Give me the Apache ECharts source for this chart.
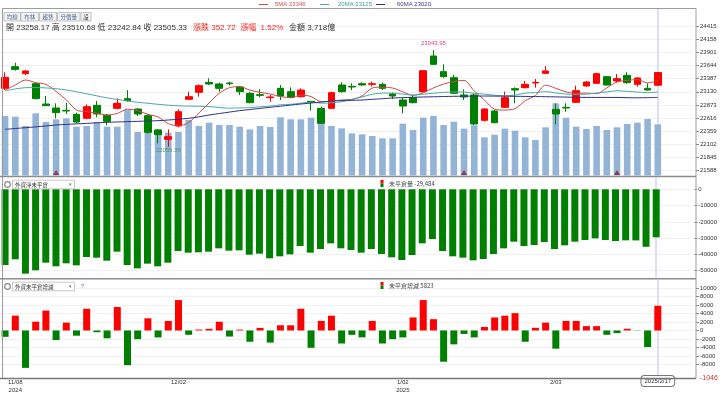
<!DOCTYPE html>
<html><head><meta charset="utf-8">
<script src="https://cdn.jsdelivr.net/npm/echarts@6/dist/echarts.min.js"></script>
<style>html,body{margin:0;padding:0;background:#fff}#c{width:720px;height:395px}</style>
</head><body><div id="c"></div>
<script>
const dates = ['2024/11/07','2024/11/08','2024/11/11','2024/11/12','2024/11/13','2024/11/14','2024/11/15','2024/11/18','2024/11/19','2024/11/20','2024/11/21','2024/11/22','2024/11/25','2024/11/26','2024/11/27','2024/11/28','2024/11/29','2024/12/02','2024/12/03','2024/12/04','2024/12/05','2024/12/06','2024/12/09','2024/12/10','2024/12/11','2024/12/12','2024/12/13','2024/12/16','2024/12/17','2024/12/18','2024/12/19','2024/12/20','2024/12/23','2024/12/24','2024/12/25','2024/12/26','2024/12/27','2024/12/30','2024/12/31','2025/1/2','2025/1/3','2025/1/6','2025/1/7','2025/1/8','2025/1/9','2025/1/10','2025/1/13','2025/1/14','2025/1/15','2025/1/16','2025/1/17','2025/1/20','2025/1/21','2025/1/22','2025/2/3','2025/2/4','2025/2/5','2025/2/6','2025/2/7','2025/2/10','2025/2/11','2025/2/12','2025/2/13','2025/2/14','2025/2/17'];
const padCats = ['pad1','pad2','pad3'];
// [open, close, low, high]
const ohlc = [
[23197,23412,23164,23510],[23620,23568,23542,23699],[23484,23536,23458,23555],[23288,22995,22982,23308],
[22891,22858,22852,23047],[22813,22722,22611,22904],[22767,22754,22696,22917],[22689,22539,22513,22722],
[22611,22839,22591,22884],[22865,22696,22630,22949],[22670,22552,22474,22696],[22806,22904,22787,23002],
[22995,22956,22937,23164],[22793,22696,22656,22806],[22663,22337,22318,22696],[22383,22292,22122,22396],
[22201,22253,22055.36,22396],[22461,22741,22435,22787],[22982,23034,22969,23132],[23119,23249,23034,23275],
[23314,23282,23262,23392],[23282,23197,23132,23308],[23301,23288,23249,23327],[23223,23132,23067,23243],
[23099,22917,22904,23132],[23073,23060,23021,23178],[23015,23028,22937,23067],[23197,23047,22969,23262],
[23132,23021,23002,23217],[23034,23164,23015,23197],[22943,22924,22761,22949],[22806,22513,22500,22839],
[22806,23112,22793,23132],[23262,23132,23112,23314],[23236,23223,23164,23295],[23288,23262,23249,23314],
[23275,23288,23230,23327],[23275,23197,23164,23308],[23086,23047,22989,23112],[22969,22852,22709,23021],
[23015,22917,22904,23067],[23132,23542,23112,23555],[23829,23666,23653,23943.95],[23523,23425,23405,23666],
[23405,23099,23086,23458],[23067,23028,22969,23178],[23067,22500,22481,23099],[22572,22793,22546,22806],
[22754,22526,22513,22774],[22826,23015,22813,23132],[23191,23164,22904,23217],[23210,23275,23197,23340],
[23301,23314,23210,23379],[23490,23536,23477,23633],[22787,22696,22494,22904],[22826,22813,22741,22904],
[22924,23151,22910,23249],[23243,23321,23230,23340],[23295,23484,23282,23503],[23425,23262,23249,23438],
[23340,23386,23314,23477],[23451,23308,23288,23510],[23275,23399,23230,23412],[23197,23164,23151,23295],
[23258.17,23505.33,23242.84,23510.68]];
const ma5 = [23164,23262,23360,23308,23274,23136,22973,22774,22742,22710,22676,22706,22789,22761,22689,22637,22507,22464,22531,22714,22912,23101,23210,23230,23163,23119,23085,23037,23015,23064,23037,22934,22947,22969,22981,23048,23203,23220,23203,23129,23060,23111,23205,23280,23330,23352,23144,22969,22789,22772,22800,22955,23059,23261,23197,23127,23102,23103,23093,23206,23321,23352,23368,23304,23346];
const ma20 = [23150,23185,23210,23212,23205,23190,23165,23130,23090,23050,23010,22980,22950,22925,22905,22885,22868,22855,22850,22847,22840,22822,22809,22816,22819,22836,22850,22875,22884,22908,22926,22907,22914,22936,22980,23029,23081,23104,23104,23084,23066,23083,23102,23117,23126,23124,23098,23085,23061,23053,23065,23103,23113,23133,23107,23085,23078,23084,23106,23126,23150,23138,23125,23112,23125];
const ma60 = [22396,22412,22428,22444,22462,22481,22492,22503,22513,22523,22533,22540,22546,22552,22558,22565,22578,22594,22611,22640,22676,22705,22733,22761,22783,22805,22826,22848,22870,22891,22910,22930,22950,22957,22963,22969,22982,22995,23008,23015,23022,23028,23032,23037,23041,23043,23045,23047,23045,23043,23041,23039,23036,23034,23030,23026,23021,23020,23019,23019,23019,23014,23012,23015,23020];
// 成交金額 (億)
const volume = [4320,4271,3594,4513,3884,4078,4150,3545,3594,3884,3545,3545,4755,3158,3158,3352,3110,3158,4029,3594,3836,3666,3666,3545,3352,3594,3521,4223,4078,4078,4199,3787,3594,3424,3061,2989,2868,2698,2698,3763,3303,4199,4320,3666,3908,3400,3642,2771,2965,3400,3255,2771,2577,3497,5239,4199,3545,3376,3594,3303,3497,3739,3836,4102,3718];
// 外資淨未平倉量
const netOI = [-46500,-43010,-51830,-49760,-45070,-47320,-45470,-46700,-41580,-41990,-43840,-38310,-46500,-48550,-45680,-47320,-45070,-37900,-38920,-38700,-38310,-36260,-37690,-37490,-40150,-39540,-42400,-41170,-39950,-34830,-38920,-36670,-33190,-36260,-37290,-38920,-36670,-39740,-41790,-43430,-40360,-33190,-30530,-37900,-41170,-41990,-43630,-42810,-39740,-36260,-32170,-34830,-34210,-32370,-36670,-34420,-32170,-31140,-30120,-31140,-31760,-31350,-31400,-35307,-29484];
// 外資未平倉增減
const oiChange = [-1500,3490,-8820,2070,4690,-2250,1850,-1230,5120,-410,-1850,5530,-8190,-2050,2870,-1640,2250,7170,-1020,220,390,2050,-1430,200,-2660,610,-2860,1230,1220,5120,-4090,2250,3480,-3070,-1030,-1630,2250,-3070,-2050,-1640,3070,7170,2660,-7370,-3270,-820,-1640,820,3070,3480,4090,-2660,620,1840,-4300,2250,2250,1030,1020,-1020,-620,410,-50,-3907,5823];
const flagIdx = [5, 45, 60];
const priceTicks = [21588,21845,22102,22359,22616,22873,23130,23387,23644,23901,24158,24415];
const oiTicks = [0,-10000,-20000,-30000,-40000,-50000];
const chgTicks = [10000,8000,6000,4000,2000,0,-2000,-4000,-6000,-8000];
const xTickIdx = [1, 17, 39, 54];
const xTickText = ['11/08\n2024', '12/02', '1/02\n2025', '2/03'];
const infoChange = '漲跌 352.72  漲幅  1.52%';
const infoAmount = '金額 3,718億';
const toolButtons = ['均線', '布林', '趨勢', '分價量', '設'];

const F = '"Liberation Sans","Noto Sans CJK TC",sans-serif';
const CJK = '"Noto Sans CJK TC","Liberation Sans",sans-serif';
const RED = '#ff0000', GREEN = '#008000';
const cats = dates.concat(padCats);
const last = dates.length - 1;
const gl = -1.5, gr = 26.5;

const chart = echarts.init(document.getElementById('c'));

function yAx(grid, min, max, ticks) {
  return {
    type: 'value', gridIndex: grid, position: 'right', offset: 2.5, min: min, max: max, scale: true,
    axisLine: {show: false},
    axisTick: {show: true, customValues: ticks, length: 3, lineStyle: {color: '#888'}},
    axisLabel: {customValues: ticks, fontSize: 6, color: '#333', margin: 4, fontFamily: F, formatter: v => String(v)},
    splitLine: {show: true, lineStyle: {color: '#f1f1f1', width: 1}}
  };
}
const xAxes = [0, 1, 2].map(k => ({
  type: 'category', gridIndex: k, data: cats, boundaryGap: true,
  axisLine: {show: false}, axisTick: {show: false}, splitLine: {show: false},
  axisLabel: k === 2 ? {
    interval: (i) => xTickIdx.indexOf(i) >= 0,
    formatter: (v, i) => xTickText[xTickIdx.indexOf(i)],
    fontSize: 6, color: '#333', lineHeight: 8.5, margin: 3, fontFamily: F
  } : {show: false},
  axisPointer: {
    show: true, type: 'line', value: last, status: 'show', snap: false, triggerTooltip: false, z: 0,
    lineStyle: {color: '#d3d5ee', width: 1.5, type: 'solid'},
    label: k === 2 ? {show: true, formatter: () => dates[last], backgroundColor: '#fff', borderColor: '#777', borderWidth: 1,
      color: '#333', fontSize: 6, padding: [2, 3], margin: 1, fontFamily: F} : {show: false}
  }
}));

const yAxes = [
  yAx(0, 21494, 24747, priceTicks),
  {type: 'value', gridIndex: 0, min: 0, max: 12088, show: false, splitLine: {show: false}},
  yAx(1, -54484, 7555, oiTicks),
  yAx(2, -10500, 11900, chgTicks)
];

const G = [];
// toolbar
const btnX = [4, 21, 39.5, 57.5, 81], btnW = [16.5, 17.5, 17, 22.5, 10];
toolButtons.forEach((t, i) => {
  G.push({type: 'rect', shape: {x: btnX[i], y: 12.5, width: btnW[i], height: 8.5}, style: {fill: '#f3f3f3', stroke: '#b4b4b4', lineWidth: 0.8}, z: 100});
  G.push({type: 'text', x: btnX[i] + btnW[i] / 2, y: 16.9, style: {text: t, fontSize: 5.5, fill: i < 4 ? '#4d6a9a' : '#333', align: 'center', verticalAlign: 'middle', fontFamily: CJK}, z: 101});
});
const L = ohlc[last];
G.push({type: 'text', x: 6, y: 27.5, style: {text: '開 ' + L[0].toFixed(2) + ' 高 ' + L[3].toFixed(2) + ' 低 ' + L[2].toFixed(2) + ' 收 ' + L[1].toFixed(2), fontSize: 8, fill: '#333', verticalAlign: 'middle', fontFamily: F}, z: 101});
G.push({type: 'text', x: 193, y: 27.5, style: {text: infoChange, fontSize: 8, fill: '#ff2020', verticalAlign: 'middle', fontFamily: F}, z: 101});
G.push({type: 'text', x: 289, y: 27.5, style: {text: infoAmount, fontSize: 8, fill: '#333', verticalAlign: 'middle', fontFamily: F}, z: 101});
// legend of MAs
const lg = [{x: 259, tx: 275, c: '#cc4848', tc: '#e05050', t: '5MA ' + ma5[last]},
            {x: 320, tx: 338, c: '#4aaaa8', tc: '#3aa0a0', t: '20MA ' + ma20[last]},
            {x: 376, tx: 397, c: '#30308a', tc: '#3c3c8c', t: '60MA ' + ma60[last]}];
lg.forEach(o => {
  G.push({type: 'line', shape: {x1: o.x, y1: 4.5, x2: o.x + 9, y2: 4.5}, style: {stroke: o.c, lineWidth: 1}, z: 101});
  G.push({type: 'text', x: o.tx, y: 4.5, style: {text: o.t, fontSize: 6, fill: o.tc, verticalAlign: 'middle', fontFamily: F}, z: 101});
});
// frame & separators
G.push({type: 'rect', shape: {x: 2.5, y: 8.5, width: 693.5, height: 370}, style: {fill: null, stroke: '#9c9c9c', lineWidth: 1}, z: 100});
G.push({type: 'line', shape: {x1: 0, y1: 176.5, x2: 696, y2: 176.5}, style: {stroke: '#8c8c8c', lineWidth: 1.5}, z: 100});
G.push({type: 'line', shape: {x1: 0, y1: 278.8, x2: 696, y2: 278.8}, style: {stroke: '#8c8c8c', lineWidth: 1.5}, z: 100});
G.push({type: 'line', shape: {x1: 0, y1: 378.5, x2: 696, y2: 378.5}, style: {stroke: '#777', lineWidth: 1.5}, z: 100});
// panel dropdowns
[[184.5, '外資淨未平倉'], [286.5, '外資未平倉增減']].forEach((d, k) => {
  G.push({type: 'circle', shape: {cx: 7.5, cy: d[0], r: 2.8}, style: {fill: '#fff', stroke: '#888', lineWidth: 1.2}, z: 101});
  G.push({type: 'rect', shape: {x: 12.5, y: d[0] - 4.3, width: 62, height: 8.6}, style: {fill: '#fff', stroke: '#bbb', lineWidth: 0.8}, z: 101});
  G.push({type: 'text', x: 15, y: d[0], style: {text: d[1], fontSize: 5.5, fill: '#333', verticalAlign: 'middle', fontFamily: CJK}, z: 102});
  G.push({type: 'text', x: 69, y: d[0], style: {text: '▾', fontSize: 5, fill: '#777', verticalAlign: 'middle', fontFamily: F}, z: 102});
  if (k === 1) G.push({type: 'text', x: 81, y: d[0], style: {text: '?', fontSize: 6, fill: '#5a7ab0', verticalAlign: 'middle', fontFamily: F}, z: 102});
});
// panel legends
const fmtOI = netOI[last].toLocaleString('en-US');
[[183.5, '未平倉量 ' + fmtOI], [285.5, '未平倉增減 ' + oiChange[last]]].forEach(d => {
  G.push({type: 'rect', shape: {x: 380.5, y: d[0] - 3.5, width: 3, height: 3.5}, style: {fill: RED}, z: 101});
  G.push({type: 'rect', shape: {x: 380.5, y: d[0], width: 3, height: 3.5}, style: {fill: GREEN}, z: 101});
  G.push({type: 'text', x: 389, y: d[0], style: {text: d[1], fontSize: 6, fill: '#444', verticalAlign: 'middle', fontFamily: CJK}, z: 101});
});
G.push({type: 'text', x: 700, y: 378.5, style: {text: '-1046', fontSize: 7, fill: '#c0392b', verticalAlign: 'middle', fontFamily: F}, z: 101});

const option = {
  animation: false,
  backgroundColor: '#fff',
  textStyle: {fontFamily: F},
  axisPointer: {triggerOn: 'none'},
  grid: [
    {left: gl, right: gr, top: 9, height: 166.5},
    {left: gl, right: gr, top: 177, height: 101},
    {left: gl, right: gr, top: 280, height: 98}
  ],
  xAxis: xAxes,
  yAxis: yAxes,
  series: [
    {name: '金額', type: 'bar', xAxisIndex: 0, yAxisIndex: 1, data: volume, barWidth: 6.6, itemStyle: {color: '#94b4d7'}, z: 1},
    {name: '標記', type: 'scatter', xAxisIndex: 0, yAxisIndex: 1, data: flagIdx.map(i => [i, 0]), symbol: 'triangle', symbolSize: [6, 5], symbolOffset: [0, -3], itemStyle: {color: '#8a1c34'}, z: 3},
    {name: 'K', type: 'candlestick', xAxisIndex: 0, yAxisIndex: 0, data: ohlc, barWidth: 7.2,
      itemStyle: {color: RED, color0: GREEN, borderColor: RED, borderColor0: GREEN, borderWidth: 1},
      markPoint: {symbol: 'circle', symbolSize: 0.01, data: [
        {type: 'max', valueDim: 'highest', label: {show: true, position: 'top', distance: 4, formatter: p => Number(p.value).toFixed(2), color: '#e0409a', fontSize: 6, fontFamily: F}},
        {type: 'min', valueDim: 'lowest', label: {show: true, position: 'bottom', distance: 1, formatter: p => Number(p.value).toFixed(2), color: '#4a9a70', fontSize: 6, fontFamily: F}}
      ]}, z: 4},
    {name: '5MA', type: 'line', xAxisIndex: 0, yAxisIndex: 0, data: ma5, showSymbol: false, smooth: 0.3, lineStyle: {color: '#cc4848', width: 1}, z: 5},
    {name: '20MA', type: 'line', xAxisIndex: 0, yAxisIndex: 0, data: ma20, showSymbol: false, smooth: 0.3, lineStyle: {color: '#4aaaa8', width: 1}, z: 5},
    {name: '60MA', type: 'line', xAxisIndex: 0, yAxisIndex: 0, data: ma60, showSymbol: false, smooth: 0.3, lineStyle: {color: '#30308a', width: 1}, z: 5},
    {name: '未平倉量', type: 'bar', xAxisIndex: 1, yAxisIndex: 2, data: netOI, barWidth: 7, itemStyle: {color: p => p.value >= 0 ? RED : GREEN}},
    {name: '未平倉增減', type: 'bar', xAxisIndex: 2, yAxisIndex: 3, data: oiChange, barWidth: 7, itemStyle: {color: p => p.value >= 0 ? RED : GREEN}}
  ],
  graphic: G
};
chart.setOption(option);
</script>
</body></html>
